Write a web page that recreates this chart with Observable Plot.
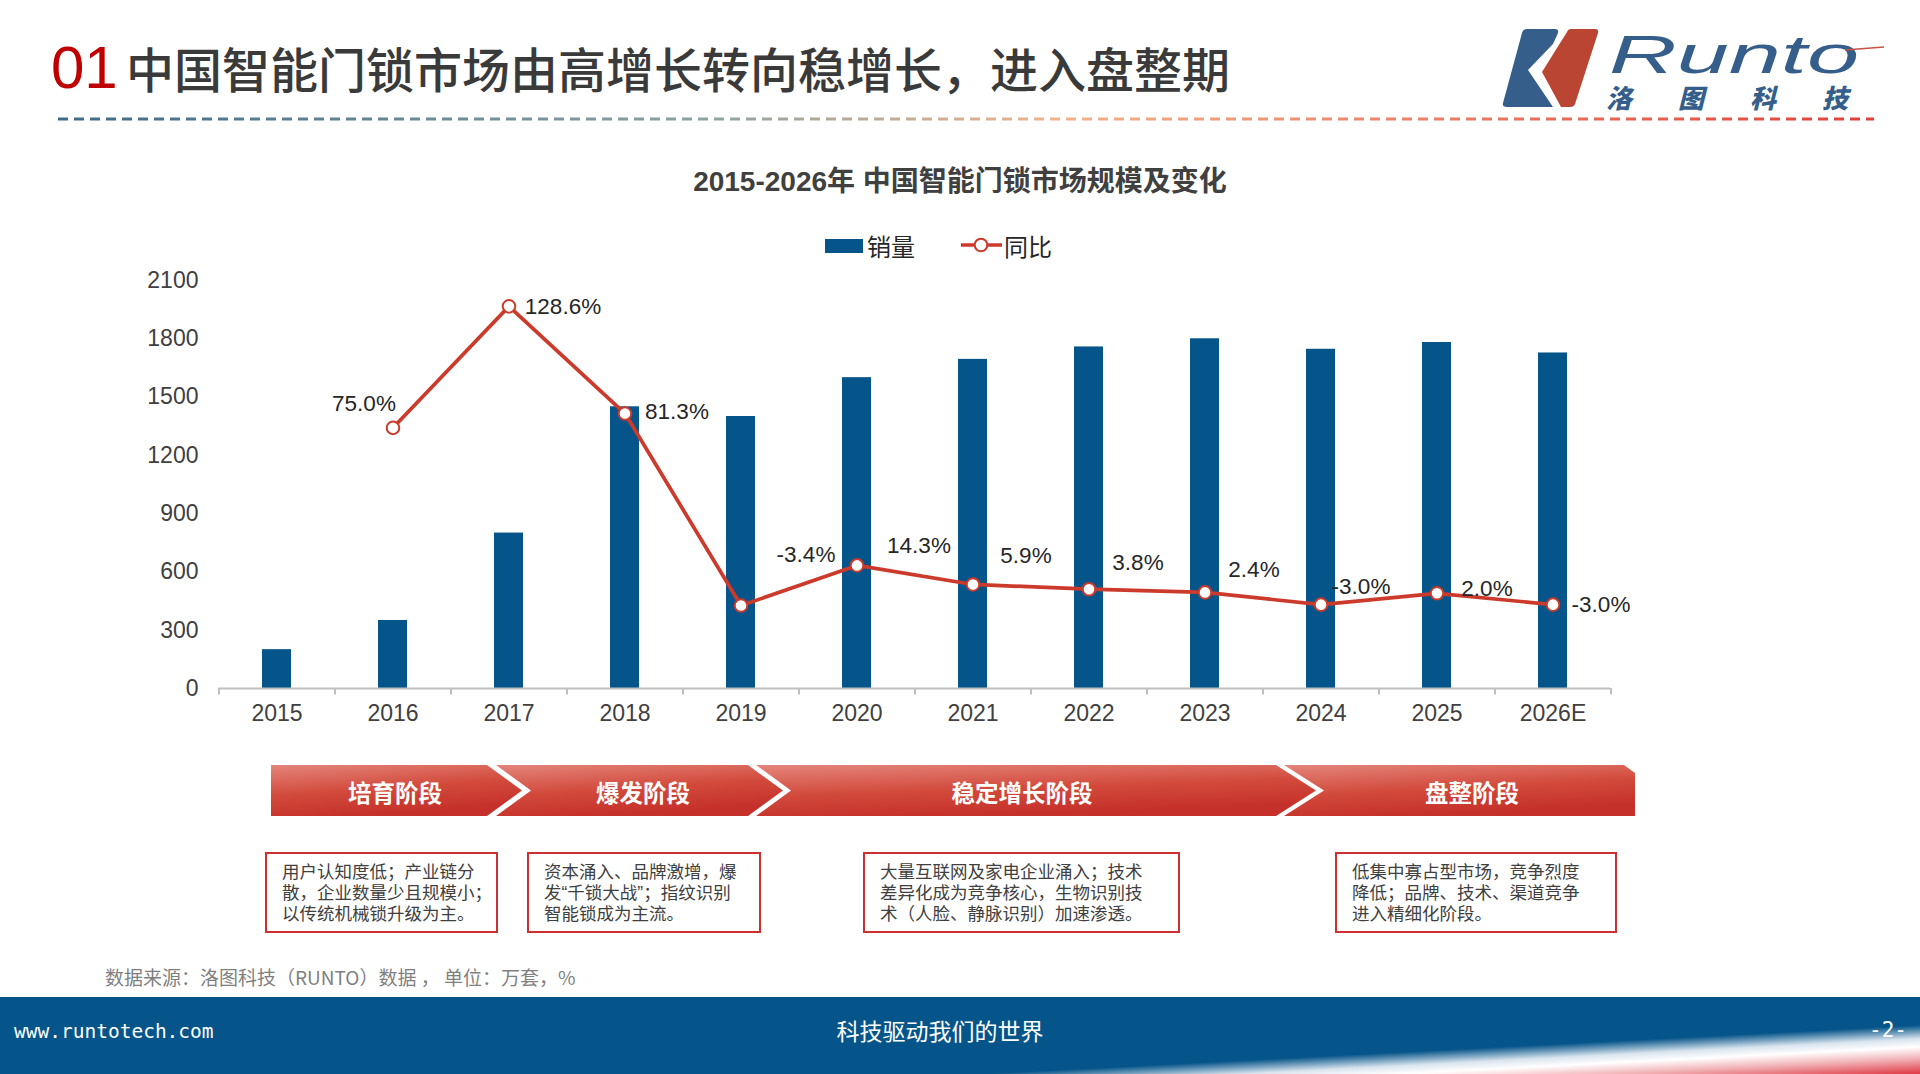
<!DOCTYPE html>
<html>
<head>
<meta charset="utf-8">
<script src="https://cdn.jsdelivr.net/npm/d3@7"></script>
<script src="https://cdn.jsdelivr.net/npm/@observablehq/plot@0.6"></script>
<style>
  html, body { margin: 0; padding: 0; background: #fff; }
  body { width: 1920px; height: 1074px; position: relative; overflow: hidden;
         font-family: "Noto Sans CJK SC", "Noto Sans", sans-serif; }
  #deco { position: absolute; left: 0; top: 0; }
  #chart { position: absolute; left: 0; top: 240px; }
</style>
</head>
<body>
<svg id="deco" width="1920" height="1074" xmlns="http://www.w3.org/2000/svg"></svg>
<div id="chart"></div>
<script>
// ---------------- data ----------------
const years = ["2015", "2016", "2017", "2018", "2019", "2020", "2021", "2022", "2023", "2024", "2025", "2026E"];
const sales = [200, 350, 800, 1450, 1400, 1600, 1694, 1758, 1800, 1746, 1781, 1727];
const yoy = [null, 75.0, 128.6, 81.3, -3.4, 14.3, 5.9, 3.8, 2.4, -3.0, 2.0, -3.0];
const yTicks = [0, 300, 600, 900, 1200, 1500, 1800, 2100];
const yoyDomain = [-40, 140];   // hidden secondary axis (%)
const salesDomain = [0, 2100];

const phases = ["培育阶段", "爆发阶段", "稳定增长阶段", "盘整阶段"];
const phaseNotes = [
  ["用户认知度低；产业链分", "散，企业数量少且规模小；", "以传统机械锁升级为主。"],
  ["资本涌入、品牌激增，爆", "发“千锁大战”；指纹识别", "智能锁成为主流。"],
  ["大量互联网及家电企业涌入；技术", "差异化成为竞争核心，生物识别技", "术（人脸、静脉识别）加速渗透。"],
  ["低集中寡占型市场，竞争烈度", "降低；品牌、技术、渠道竞争", "进入精细化阶段。"]
];

const titleNum = "01";
const titleText = "中国智能门锁市场由高增长转向稳增长，进入盘整期";
const chartTitle = "2015-2026年 中国智能门锁市场规模及变化";
const legendLabels = ["销量", "同比"];
const sourceText = "数据来源：洛图科技（RUNTO）数据 ， 单位：万套，%";
const footerLeft = "www.runtotech.com";
const footerMid = "科技驱动我们的世界";
const footerRight = "-2-";

// ---------------- styles ----------------
const BLUE = "#06558a";
const RED = "#cc3a2b";
const TEXT = "#404040";
const NUM_FONT = "'Liberation Sans Narrow','Liberation Sans',Arial,sans-serif";

// ---------------- chart ----------------
const W = 1920, H = 498, ML = 218, MR = 310, MT = 40, MB = 50;
const step = (W - ML - MR) / years.length;
const pctToY = d3.scaleLinear().domain(yoyDomain).range(salesDomain);

const rows = years.map((y, i) => ({year: y, sales: sales[i], yoy: yoy[i]}));
const lineRows = rows.filter(d => d.yoy !== null);

// label placement around each point (pixels)
const labelPlace = {
  "2016": [-29, -24], "2017": [54, 0], "2018": [52, -2], "2019": [65, -51],
  "2020": [62, -20], "2021": [53, -29], "2022": [49, -26], "2023": [49, -23],
  "2024": [40, -18], "2025": [50, -5], "2026E": [48, 0]
};

const labelMarks = lineRows.map(d => Plot.text([d], {
  x: "year", y: r => pctToY(r.yoy),
  text: r => r.yoy.toFixed(1) + "%",
  dx: labelPlace[d.year][0], dy: labelPlace[d.year][1],
  fill: "#262626", fontSize: 22.5, fontFamily: NUM_FONT
}));

const chart = Plot.plot({
  width: W, height: H,
  marginLeft: ML, marginRight: MR, marginTop: MT, marginBottom: MB,
  style: {fontFamily: NUM_FONT, fontSize: "23px", color: TEXT, background: "transparent", overflow: "visible"},
  x: {domain: years, paddingInner: 0.75, paddingOuter: 0.375, label: null},
  y: {domain: salesDomain, label: null},
  marks: [
    Plot.barY(rows, {x: "year", y: "sales", fill: BLUE}),
    Plot.ruleY([0], {stroke: "#bfbfbf", strokeWidth: 2}),
    Plot.ruleX(years, {x: d => d, dx: -step / 2, y1: 0, y2: -33, stroke: "#bfbfbf", strokeWidth: 2}),
    Plot.ruleX([years[years.length - 1]], {x: d => d, dx: step / 2, y1: 0, y2: -33, stroke: "#bfbfbf", strokeWidth: 2}),
    Plot.axisY({ticks: yTicks, tickSize: 0, tickPadding: 20, tickFormat: d => String(d), fill: TEXT}),
    Plot.axisX({tickSize: 0, tickPadding: 16, fill: TEXT}),
    Plot.line(lineRows, {x: "year", y: d => pctToY(d.yoy), stroke: RED, strokeWidth: 3.7}),
    Plot.dot(lineRows, {x: "year", y: d => pctToY(d.yoy), r: 6.3, fill: "#fff", stroke: RED, strokeWidth: 2}),
    ...labelMarks
  ]
});
document.getElementById("chart").appendChild(chart);

// ---------------- decorations ----------------
const svg = d3.select("#deco");
const defs = svg.append("defs");

const dashGrad = defs.append("linearGradient").attr("id", "dashGrad")
  .attr("gradientUnits", "userSpaceOnUse").attr("x1", 58).attr("x2", 1874).attr("y1", 0).attr("y2", 0);
dashGrad.append("stop").attr("offset", 0).attr("stop-color", "#3e6b88");
dashGrad.append("stop").attr("offset", 0.35).attr("stop-color", "#8aa2a0");
dashGrad.append("stop").attr("offset", 0.55).attr("stop-color", "#f0b48e");
dashGrad.append("stop").attr("offset", 1).attr("stop-color", "#e0403a");

const chevGrad = defs.append("linearGradient").attr("id", "chevGrad")
  .attr("x1", 0).attr("y1", 0).attr("x2", 0.35).attr("y2", 1);
chevGrad.append("stop").attr("offset", 0).attr("stop-color", "#e4857b");
chevGrad.append("stop").attr("offset", 0.55).attr("stop-color", "#d24a3c");
chevGrad.append("stop").attr("offset", 1).attr("stop-color", "#c5302a");

const footGrad = defs.append("linearGradient").attr("id", "footGrad")
  .attr("gradientUnits", "userSpaceOnUse")
  .attr("x1", 6.6).attr("y1", 997 + 127.8).attr("x2", 9.1).attr("y2", 997 + 175.8);
footGrad.append("stop").attr("offset", 0).attr("stop-color", BLUE);
footGrad.append("stop").attr("offset", 0.28).attr("stop-color", "#d9e4ee");
footGrad.append("stop").attr("offset", 0.45).attr("stop-color", "#ffffff");
footGrad.append("stop").attr("offset", 0.7).attr("stop-color", "#f0aeb2");
footGrad.append("stop").attr("offset", 1).attr("stop-color", "#e03c48");

// title
svg.append("text").attr("x", 51).attr("y", 67).attr("dominant-baseline", "central")
  .attr("font-family", NUM_FONT).attr("font-size", 60).attr("fill", "#c00000").text(titleNum);
svg.append("text").attr("x", 126).attr("y", 67).attr("dominant-baseline", "central")
  .attr("font-family", "'Noto Sans CJK SC'").attr("font-weight", 500).attr("font-size", 48)
  .attr("fill", "#3a3a3a").text(titleText);
svg.append("line").attr("x1", 58).attr("x2", 1874).attr("y1", 119).attr("y2", 119)
  .attr("stroke", "url(#dashGrad)").attr("stroke-width", 3).attr("stroke-dasharray", "10 6");

// logo
const logo = svg.append("g");
logo.append("path").attr("d", "M1527 29 L1555 29 Q1559 29 1558 33 L1553 44 L1528 70 L1553 107 L1507 107 Q1502 107 1503 103 L1522 33 Q1523 29 1527 29 Z")
  .attr("fill", "#355f8a");
logo.append("path").attr("d", "M1571 29 L1595 29 Q1599 29 1598 33 L1575 104 Q1574 107 1570 107 L1561 107 L1542 72 L1567 32 Q1568 29 1571 29 Z")
  .attr("fill", "#bb4533");
logo.append("text").attr("x", 1609).attr("y", 73).attr("font-family", "'Liberation Sans',sans-serif")
  .attr("font-style", "italic").attr("font-size", 54).attr("fill", "#355f8a")
  .attr("textLength", 250).attr("lengthAdjust", "spacingAndGlyphs").text("Runto");
logo.append("line").attr("x1", 1845).attr("x2", 1884).attr("y1", 50).attr("y2", 47)
  .attr("stroke", "#c8523f").attr("stroke-width", 1.5);
logo.append("text").attr("x", 1606).attr("y", 108).attr("font-family", "'Liberation Sans','Noto Sans CJK SC',sans-serif")
  .attr("font-weight", 900).attr("font-style", "italic").attr("font-size", 26).attr("fill", "#355f8a")
  .attr("textLength", 242).attr("lengthAdjust", "spacing").text("洛图科技");

// chart title
svg.append("text").attr("x", 960).attr("y", 181).attr("text-anchor", "middle").attr("dominant-baseline", "central")
  .attr("font-family", "'Liberation Sans','Noto Sans CJK SC',sans-serif").attr("font-weight", "bold")
  .attr("font-size", 28).attr("fill", TEXT).text(chartTitle);

// legend
svg.append("rect").attr("x", 825).attr("y", 239).attr("width", 38).attr("height", 14).attr("fill", BLUE);
svg.append("text").attr("x", 867).attr("y", 245).attr("dominant-baseline", "central")
  .attr("font-size", 24).attr("fill", "#262626").text(legendLabels[0]);
svg.append("line").attr("x1", 961).attr("x2", 1002).attr("y1", 245).attr("y2", 245)
  .attr("stroke", RED).attr("stroke-width", 3.7);
svg.append("circle").attr("cx", 981).attr("cy", 245).attr("r", 6.3).attr("fill", "#fff")
  .attr("stroke", RED).attr("stroke-width", 2);
svg.append("text").attr("x", 1004).attr("y", 245).attr("dominant-baseline", "central")
  .attr("font-size", 24).attr("fill", "#262626").text(legendLabels[1]);

// phase chevrons
const chevrons = [
  {pts: "271,765 487,765 522,790.5 487,816 271,816", cx: 395},
  {pts: "496,765 748,765 783,790.5 748,816 496,816 531,790.5", cx: 643},
  {pts: "756,765 1276,765 1316,790.5 1276,816 756,816 791,790.5", cx: 1022},
  {pts: "1284,765 1624,765 1635,773 1635,816 1284,816 1324,790.5", cx: 1472}
];
chevrons.forEach((c, i) => {
  svg.append("polygon").attr("points", c.pts).attr("fill", "url(#chevGrad)");
  svg.append("text").attr("x", c.cx).attr("y", 792).attr("text-anchor", "middle").attr("dominant-baseline", "central")
    .attr("font-size", 23.5).attr("font-weight", "bold").attr("fill", "#fff").text(phases[i]);
});

// note boxes (one text element per box, lines as tspans)
const boxes = [
  {x: 266, w: 231, tx: 282},
  {x: 528, w: 232, tx: 544},
  {x: 864, w: 315, tx: 880},
  {x: 1336, w: 280, tx: 1352}
];
boxes.forEach((b, i) => {
  svg.append("rect").attr("x", b.x).attr("y", 853).attr("width", b.w).attr("height", 79)
    .attr("fill", "none").attr("stroke", "#cc3030").attr("stroke-width", 2);
  const t = svg.append("text").attr("font-size", 17.5).attr("fill", TEXT)
    .attr("font-family", "'Liberation Sans','Noto Sans CJK SC',sans-serif");
  phaseNotes[i].forEach((line, j) => {
    t.append("tspan").attr("x", b.tx).attr("y", 878 + j * 21).text(line);
  });
});

// source
svg.append("text").attr("x", 105).attr("y", 976).attr("dominant-baseline", "central")
  .attr("font-size", 19).attr("fill", "#7f7f7f").text(sourceText);

// footer
svg.append("rect").attr("x", 0).attr("y", 997).attr("width", 1920).attr("height", 77).attr("fill", "url(#footGrad)");
svg.append("text").attr("x", 14).attr("y", 1031).attr("dominant-baseline", "central")
  .attr("font-family", "'DejaVu Sans Mono',monospace").attr("font-size", 19.5).attr("fill", "#fff").text(footerLeft);
svg.append("text").attr("x", 940).attr("y", 1030).attr("text-anchor", "middle").attr("dominant-baseline", "central")
  .attr("font-size", 23).attr("fill", "#fff").text(footerMid);
svg.append("text").attr("x", 1907).attr("y", 1030).attr("text-anchor", "end").attr("dominant-baseline", "central")
  .attr("font-family", "'DejaVu Sans Mono',monospace").attr("font-size", 21).attr("fill", "#fff").text(footerRight);
</script>
</body>
</html>
